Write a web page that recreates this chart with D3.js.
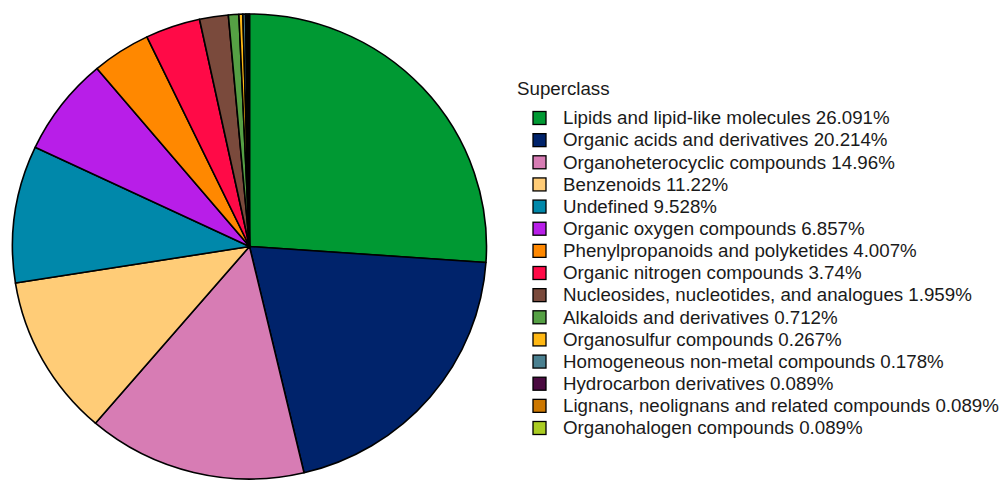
<!DOCTYPE html>
<html>
<head>
<meta charset="utf-8">
<script src="https://cdn.jsdelivr.net/npm/d3@7"></script>
<style>
  body { margin: 0; background: #fff; }
  text { font-family: "Liberation Sans", Arial, sans-serif; fill: #1a1a1a; }
</style>
</head>
<body>
<div id="chart"></div>
<script>
// superclass shares, in drawing order (clockwise from 12 o'clock)
const classes = [
  'Lipids and lipid-like molecules',
  'Organic acids and derivatives',
  'Organoheterocyclic compounds',
  'Benzenoids',
  'Undefined',
  'Organic oxygen compounds',
  'Phenylpropanoids and polyketides',
  'Organic nitrogen compounds',
  'Nucleosides, nucleotides, and analogues',
  'Alkaloids and derivatives',
  'Organosulfur compounds',
  'Homogeneous non-metal compounds',
  'Hydrocarbon derivatives',
  'Lignans, neolignans and related compounds',
  'Organohalogen compounds'
];
const percents = ['26.091', '20.214', '14.96', '11.22', '9.528', '6.857', '4.007', '3.74',
  '1.959', '0.712', '0.267', '0.178', '0.089', '0.089', '0.089'];
const colors = ['#009933', '#00236b', '#d77cb4', '#ffcc77', '#0088aa', '#b81ee8', '#ff8800',
  '#ff0a47', '#7a4a3c', '#55a044', '#ffb814', '#4a8090', '#4a0a40', '#cc7700', '#aacc22'];

const width = 1003, height = 481;
const cx = 249.5, cy = 246.5, r = 237;
const fs = 17.5, stretch = 1.07; // legend text looks a little widened

const svg = d3.select('#chart').append('svg')
  .attr('width', width)
  .attr('height', height);

const data = classes.map((c, i) => ({ name: c, pct: percents[i], value: +percents[i] }));

const color = d3.scaleOrdinal().domain(classes).range(colors);

const pie = d3.pie().sort(null).value(d => d.value);
const arc = d3.arc().innerRadius(0).outerRadius(r);

// picture is a touch squashed vertically
svg.append('g')
  .attr('transform', 'translate(' + cx + ',' + cy + ') scale(1,' + (232.5 / 237) + ')')
  .selectAll('path')
  .data(pie(data))
  .enter()
  .append('path')
  .attr('d', arc)
  .attr('fill', d => color(d.data.name))
  .attr('stroke', '#000')
  .attr('stroke-width', 1.6)
  .attr('stroke-linejoin', 'round');

// LEGEND
const legend = svg.append('g').attr('transform', 'translate(517,0)');

legend.append('text')
  .attr('transform', 'translate(0,95) scale(' + stretch + ',1)')
  .attr('font-size', fs)
  .text('Superclass');

const y = d3.scalePoint().domain(classes).range([118, 428]);

const rows = legend.selectAll('g.row')
  .data(data)
  .enter()
  .append('g')
  .attr('class', 'row')
  .attr('transform', d => 'translate(0,' + y(d.name) + ')');

rows.append('rect')
  .attr('x', 16)
  .attr('y', -6.5)
  .attr('width', 13)
  .attr('height', 13)
  .attr('fill', d => color(d.name))
  .attr('stroke', '#000')
  .attr('stroke-width', 1.3);

rows.append('text')
  .attr('transform', 'translate(46,0) scale(' + stretch + ',1)')
  .attr('dy', '0.36em')
  .attr('font-size', fs)
  .text(d => d.name + ' ' + d.pct + '%');
</script>
</body>
</html>
